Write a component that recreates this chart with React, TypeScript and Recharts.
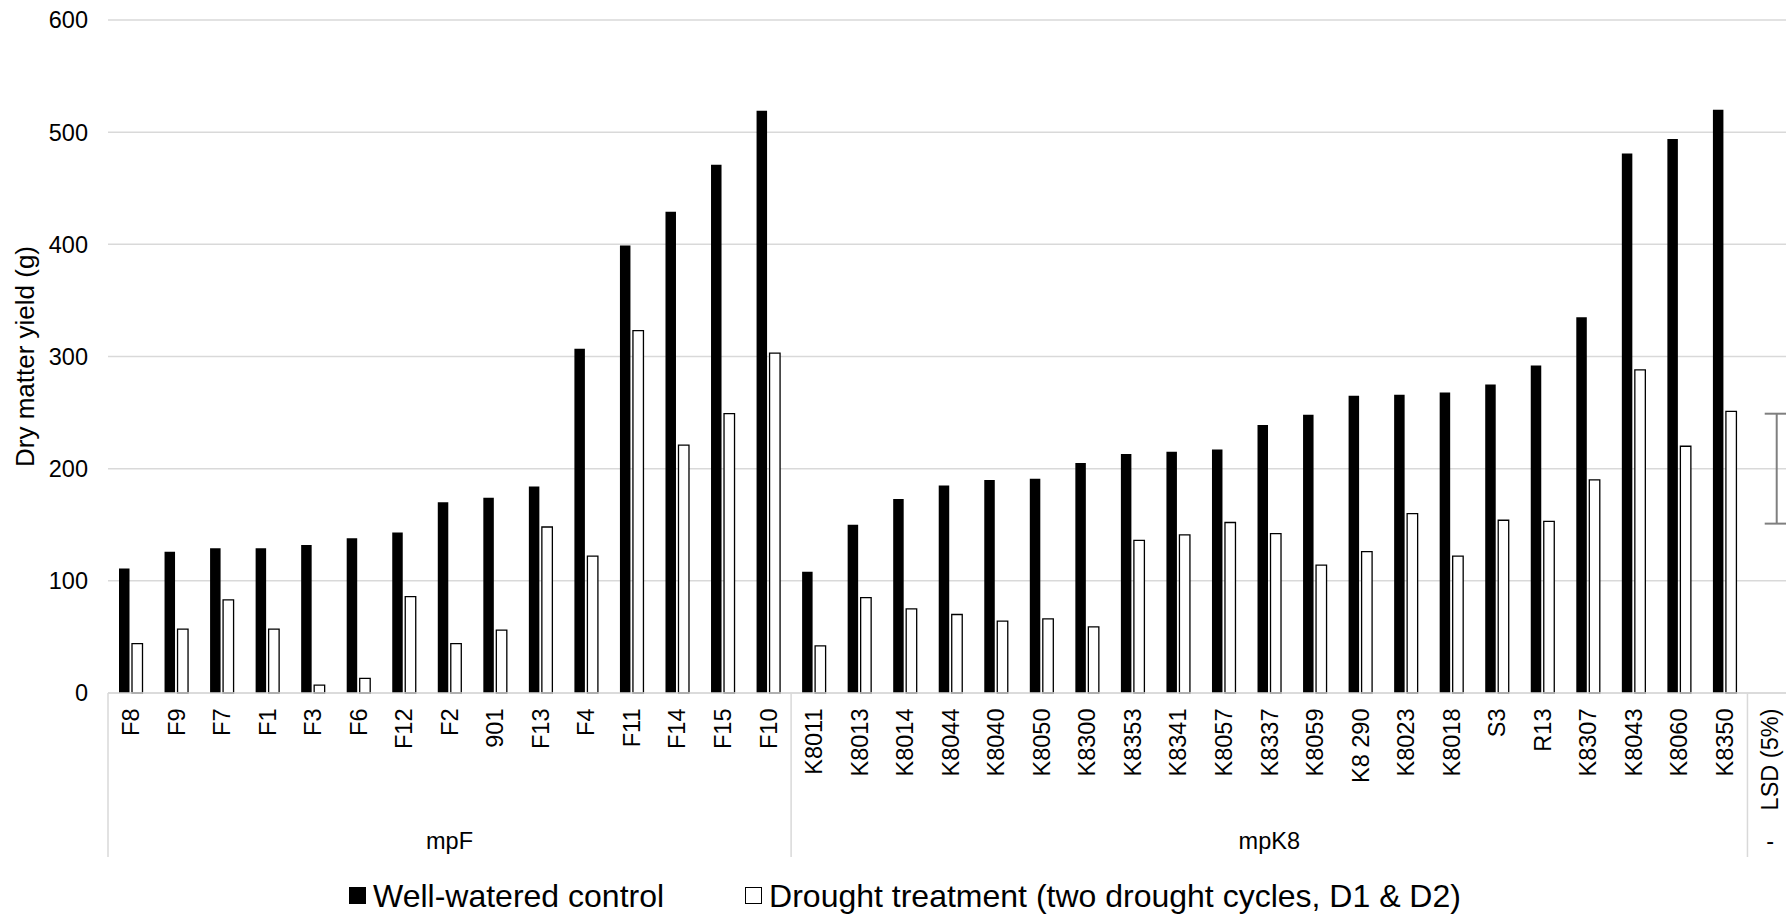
import React from 'react';
import { BarChart, Bar, XAxis, YAxis, CartesianGrid, Legend, Cell, ErrorBar } from 'recharts';

const mpFNames = ['F8', 'F9', 'F7', 'F1', 'F3', 'F6', 'F12', 'F2', '901', 'F13', 'F4', 'F11', 'F14', 'F15', 'F10'];
const mpFControl = [111, 126, 129, 129, 132, 138, 143, 170, 174, 184, 307, 399, 429, 471, 519];
const mpFDrought = [44, 57, 83, 57, 7, 13, 86, 44, 56, 148, 122, 323, 221, 249, 303];

const mpK8Names = ['K8011', 'K8013', 'K8014', 'K8044', 'K8040', 'K8050', 'K8300', 'K8353', 'K8341', 'K8057', 'K8337', 'K8059', 'K8 290', 'K8023', 'K8018', 'S3', 'R13', 'K8307', 'K8043', 'K8060', 'K8350'];
const mpK8Control = [108, 150, 173, 185, 190, 191, 205, 213, 215, 217, 239, 248, 265, 266, 268, 275, 292, 335, 481, 494, 520];
const mpK8Drought = [42, 85, 75, 70, 64, 66, 59, 136, 141, 152, 142, 114, 126, 160, 122, 154, 153, 190, 288, 220, 251];

const lsdName = 'LSD (5%)';
const lsdCenter = 200;
const lsdHalfRange = 49;

const groupNames = ['mpF', 'mpK8', '-'];
const groupSizes = [mpFNames.length, mpK8Names.length, 1];

const yTicks = [0, 100, 200, 300, 400, 500, 600];
const seriesKeys = ['control', 'drought'];
const controlName = 'Well-watered control';
const droughtName = 'Drought treatment (two drought cycles, D1 & D2)';
const yAxisTitle = 'Dry matter yield (g)';

const data: any[] = [
  ...mpFNames.map((name, i) => ({ name, control: mpFControl[i], drought: mpFDrought[i] })),
  ...mpK8Names.map((name, i) => ({ name, control: mpK8Control[i], drought: mpK8Drought[i] })),
  { name: lsdName, control: null, drought: lsdCenter, lsd: lsdHalfRange },
];

const groupStarts: number[] = groupSizes.reduce((acc: number[], s, i) => {
  acc.push(i === 0 ? 0 : acc[i - 1] + groupSizes[i - 1]);
  return acc;
}, []);

const FONT = '"Liberation Sans", Arial, Helvetica, sans-serif';
const CHART_W = 1793;
const CHART_H = 915;
const MARGIN = { top: 20, right: 0, bottom: 58, left: 8 };
const YAXIS_W = 100;
const XAXIS_H = 164;
const BAND = (CHART_W - MARGIN.left - MARGIN.right - YAXIS_W) / data.length;
const GRID = '#d9d9d9';

const CategoryTick = (props: any) => {
  const { x, y, payload } = props;
  const index = payload && payload.index != null ? payload.index : props.index;
  const gi = groupStarts.indexOf(index);
  return (
    <g>
      <text
        transform={`translate(${x},${y + 15.5}) rotate(-90)`}
        textAnchor="end"
        dy="0.35em"
        fontSize={23.5}
        fill="#000"
        fontFamily={FONT}
      >
        {payload.value}
      </text>
      {gi >= 0 && (
        <g>
          <line x1={x - BAND / 2} x2={x - BAND / 2} y1={y} y2={y + XAXIS_H} stroke={GRID} strokeWidth={1.5} />
          <text
            x={x - BAND / 2 + (groupSizes[gi] * BAND) / 2}
            y={y + 156}
            textAnchor="middle"
            fontSize={23.5}
            fill="#000"
            fontFamily={FONT}
          >
            {groupNames[gi]}
          </text>
        </g>
      )}
    </g>
  );
};

const YTitle = (props: any) => {
  const vb = props.viewBox || { x: 8, y: 20, width: 100, height: 673 };
  const cx = vb.x + 17;
  const cy = vb.y + vb.height / 2;
  return (
    <text
      x={cx}
      y={cy}
      transform={`rotate(-90 ${cx} ${cy})`}
      textAnchor="middle"
      dominantBaseline="central"
      fontSize={26}
      fill="#000"
      fontFamily={FONT}
    >
      {yAxisTitle}
    </text>
  );
};

const renderLegend = (props: any) => {
  const payload = [...(props.payload || [])].sort(
    (a: any, b: any) => seriesKeys.indexOf(a.dataKey) - seriesKeys.indexOf(b.dataKey)
  );
  return (
    <div
      style={{
        display: 'flex',
        alignItems: 'center',
        height: 36,
        paddingLeft: 349,
        fontFamily: FONT,
        fontSize: 32,
        color: '#000',
        whiteSpace: 'nowrap',
      }}
    >
      {payload.map((entry: any, i: number) => (
        <div key={i} style={{ display: 'flex', alignItems: 'center', marginRight: 81 }}>
          <span
            style={{
              display: 'inline-block',
              width: 17,
              height: 17,
              boxSizing: 'border-box',
              background: entry.dataKey === 'control' ? '#000' : '#fff',
              border: '1.5px solid #000',
              marginRight: 7,
            }}
          />
          <span style={{ lineHeight: '36px' }}>{entry.value}</span>
        </div>
      ))}
    </div>
  );
};

export default function App() {
  return (
    <div
      style={{
        position: 'fixed',
        left: 0,
        top: 0,
        width: 1786,
        height: 915,
        overflow: 'hidden',
        background: '#fff',
        fontFamily: FONT,
      }}
    >
      <BarChart width={CHART_W} height={CHART_H} data={data} margin={MARGIN} barSize={10.5} barGap={2.5}>
        <CartesianGrid vertical={false} stroke={GRID} strokeWidth={1.5} />
        <XAxis
          dataKey="name"
          interval={0}
          tickLine={false}
          tickSize={0}
          tickMargin={0}
          height={XAXIS_H}
          axisLine={{ stroke: GRID, strokeWidth: 1.5 }}
          tick={(p: any) => <CategoryTick {...p} />}
        />
        <YAxis
          width={YAXIS_W}
          domain={[0, 600]}
          ticks={yTicks}
          axisLine={false}
          tickLine={false}
          tickSize={6}
          tickMargin={14}
          tick={{ fontSize: 23.5, fill: '#000', fontFamily: FONT }}
          label={(p: any) => <YTitle {...p} />}
        />
        <Legend
          layout="vertical"
          verticalAlign="middle"
          align="center"
          itemSorter={null as any}
          wrapperStyle={{ left: 0, top: 877.6, width: 1786 }}
          content={renderLegend}
        />
        <Bar dataKey="control" name={controlName} fill="#000" isAnimationActive={false} />
        <Bar dataKey="drought" name={droughtName} fill="#fff" stroke="#000" strokeWidth={1.3} isAnimationActive={false}>
          {data.map((d, i) => (
            <Cell key={i} fill={d.lsd != null ? 'transparent' : '#fff'} stroke={d.lsd != null ? 'none' : '#000'} />
          ))}
          <ErrorBar dataKey="lsd" width={12} stroke="#7f7f7f" strokeWidth={2} direction="y" />
        </Bar>
      </BarChart>
    </div>
  );
}
